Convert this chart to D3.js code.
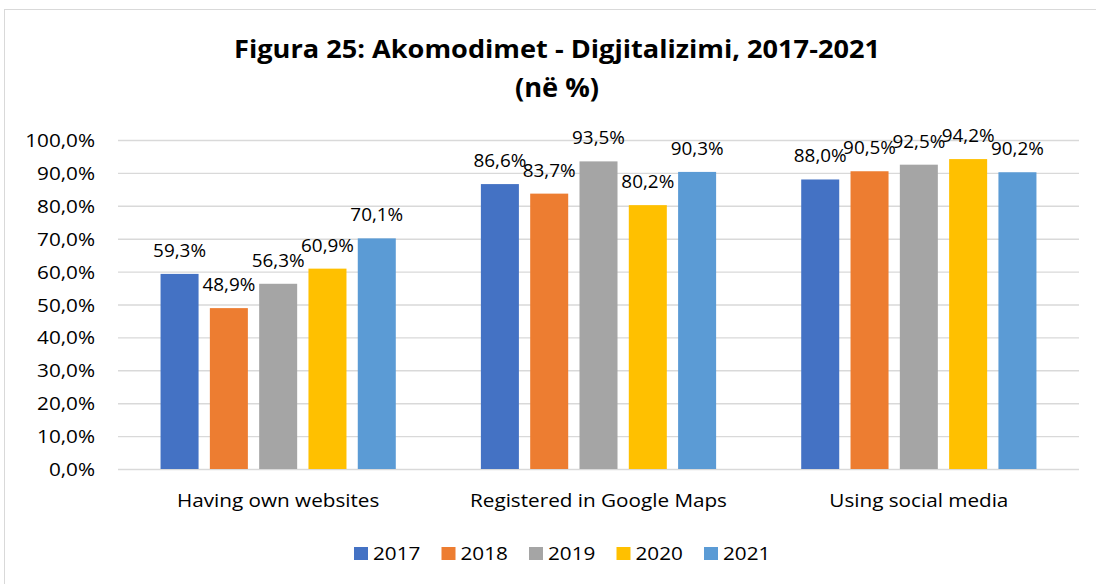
<!DOCTYPE html>
<html>
<head>
<meta charset="utf-8">
<script src="https://cdn.jsdelivr.net/npm/d3@7"></script>
<style>
  html, body { margin: 0; padding: 0; background: #fff; }
  svg { display: block; }
  text { font-family: "Open Sans", "Noto Sans", sans-serif; fill: #000; }
</style>
</head>
<body>
<svg id="chart" width="1096" height="584"></svg>
<script>
const categories = ["Having own websites", "Registered in Google Maps", "Using social media"];
const years = ["2017", "2018", "2019", "2020", "2021"];
const values2017 = [59.3, 86.6, 88.0];
const values2018 = [48.9, 83.7, 90.5];
const values2019 = [56.3, 93.5, 92.5];
const values2020 = [60.9, 80.2, 94.2];
const values2021 = [70.1, 90.3, 90.2];
const yTicks = [0, 10, 20, 30, 40, 50, 60, 70, 80, 90, 100];
const colors = ["#4472C4", "#ED7D31", "#A5A5A5", "#FFC000", "#5B9BD5"];
const titleLine1 = "Figura 25: Akomodimet - Digjitalizimi, 2017-2021";
const titleLine2 = "(në %)";

const series = [values2017, values2018, values2019, values2020, values2021];

const svg = d3.select("#chart");
const SX = 1.15; // horizontal stretch of the original rendering
const FS = 18;
const fmt = v => d3.format(".1f")(v).replace(".", ",") + "%";

// chart frame
svg.append("rect").attr("x", 4.5).attr("y", 9.5).attr("width", 1200).attr("height", 700)
  .attr("fill", "#fff").attr("stroke", "#d9d9d9").attr("stroke-width", 1);

const plot = { left: 118, right: 1079, top: 140, bottom: 469 };

const x0 = d3.scaleBand().domain(categories).range([plot.left, plot.right]).padding(0);
const x1 = d3.scaleBand().domain(years).range([0, x0.bandwidth()])
  .paddingInner(0.229).paddingOuter(0.863);
const y = d3.scaleLinear().domain([0, 100]).range([plot.bottom, plot.top]);

// title
svg.append("text").attr("x", 557).attr("y", 58).attr("text-anchor", "middle")
  .attr("font-size", 25).attr("font-weight", 700)
  .attr("textLength", 646).attr("lengthAdjust", "spacingAndGlyphs")
  .text(titleLine1);
svg.append("text").attr("transform", `translate(557,97) scale(1.05,1)`)
  .attr("text-anchor", "middle")
  .attr("font-size", 26).attr("font-weight", 700)
  .text(titleLine2);

// y axis with gridlines
const yAxis = d3.axisLeft(y).tickValues(yTicks).tickFormat(fmt)
  .tickSize(-(plot.right - plot.left)).tickPadding(0);
const gy = svg.append("g").attr("transform", `translate(${plot.left},0)`).call(yAxis);
gy.select(".domain").remove();
gy.selectAll(".tick line").attr("stroke", "#d9d9d9").attr("stroke-width", 1.4);
gy.selectAll(".tick text")
  .attr("x", null).attr("dy", null)
  .attr("transform", `translate(-23,6.5) scale(${SX},1)`)
  .attr("text-anchor", "end")
  .attr("font-family", "Open Sans").attr("font-size", FS).attr("fill", "#000");

// bars
const groups = svg.append("g").selectAll("g").data(categories).join("g")
  .attr("transform", d => `translate(${x0(d)},0)`);

groups.each(function(cat, ci) {
  const g = d3.select(this);
  const rows = years.map((yr, si) => ({ yr, si, v: series[si][ci] }));
  g.selectAll("rect").data(rows).join("rect")
    .attr("x", d => x1(d.yr))
    .attr("y", d => y(d.v))
    .attr("width", x1.bandwidth())
    .attr("height", d => y(0) - y(d.v))
    .attr("fill", d => colors[d.si]);
  g.selectAll("text.lbl").data(rows).join("text").attr("class", "lbl")
    .attr("transform", d => `translate(${x1(d.yr) + x1.bandwidth() / 2},${y(d.v) - 17}) scale(1.05,1)`)
    .attr("text-anchor", "middle")
    .attr("font-size", FS)
    .text(d => fmt(d.v));
});

// category labels
const xAxis = d3.axisBottom(x0).tickSize(0).tickPadding(0);
const gx = svg.append("g").attr("transform", `translate(0,${plot.bottom})`).call(xAxis);
gx.select(".domain").remove();
gx.selectAll(".tick text")
  .attr("y", null).attr("dy", null)
  .attr("transform", `translate(0,38) scale(${SX},1)`)
  .attr("text-anchor", "middle")
  .attr("font-family", "Open Sans").attr("font-size", FS).attr("fill", "#000");

// legend
const legend = svg.append("g");
const legX = d3.scalePoint().domain(years).range([354, 704]);
const li = legend.selectAll("g").data(years).join("g")
  .attr("transform", d => `translate(${legX(d)},0)`);
li.append("rect").attr("x", 0).attr("y", 547).attr("width", 14).attr("height", 13)
  .attr("fill", (d, i) => colors[i]);
li.append("text").attr("transform", `translate(19,560) scale(${SX},1)`)
  .attr("font-size", FS).text(d => d);
</script>
</body>
</html>
